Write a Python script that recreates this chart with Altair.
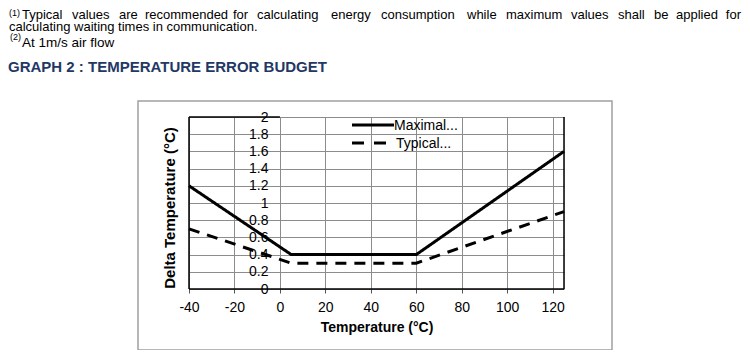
import altair as alt
import pandas as pd

# ---- data ----
temps_max = [-40, 5, 60, 125]
delta_max = [1.2, 0.4, 0.4, 1.6]
temps_typ = [-40, 5, 60, 125]
delta_typ = [0.7, 0.3, 0.3, 0.9]
series_names = ["Maximal...", "Typical..."]
x_ticks = [-40, -20, 0, 20, 40, 60, 80, 100, 120]
y_ticks = [0, 0.2, 0.4, 0.6, 0.8, 1, 1.2, 1.4, 1.6, 1.8, 2]
x_domain = [-40, 125]
y_domain = [0, 2]

line1_words = ["Typical", "values", "are", "recommended", "for", "calculating", "energy",
               "consumption", "while", "maximum", "values", "shall", "be", "applied", "for"]
line1_starts = [22, 72, 119, 145, 233, 257, 331, 381, 467, 506, 571, 618, 654, 676, 741]
line2 = "calculating waiting times in communication."
line3 = "At 1m/s air flow"
graph_title = "GRAPH 2 : TEMPERATURE ERROR BUDGET"

df = pd.DataFrame({
    "t": temps_max + temps_typ,
    "d": delta_max + delta_typ,
    "s": [series_names[0]] * len(temps_max) + [series_names[1]] * len(temps_typ),
})

borders = pd.DataFrame({
    "x": [x_domain[0], x_domain[1], x_domain[0], x_domain[0]],
    "x2": [x_domain[0], x_domain[1], x_domain[1], 0],
    "y": [y_domain[0], y_domain[0], y_domain[0], y_domain[1]],
    "y2": [y_domain[1], y_domain[1], y_domain[0], y_domain[1]],
})

W, H = 375, 172
FONT = "Liberation Sans, Arial, sans-serif"

xs = alt.Scale(domain=x_domain, nice=False, zero=False)
ys = alt.Scale(domain=y_domain, nice=False)

x_axis = alt.Axis(
    values=x_ticks, title="Temperature (°C)", grid=True, gridColor="#8c8c8c",
    gridWidth=1, gridOpacity=1, domain=False, ticks=True, tickSize=4,
    tickColor="#555555", labelFont=FONT, labelFontSize=14, labelColor="black",
    labelPadding=7, labelExpr="'' + datum.value", titleFont=FONT, titleFontSize=14,
    titleFontWeight="bold", titleColor="black", titlePadding=6, labelFlush=False)
y_axis = alt.Axis(
    values=y_ticks, title=None, grid=True, gridColor="#8c8c8c", gridWidth=1,
    gridOpacity=1, domain=False, ticks=False, offset=-91, labelPadding=12,
    labelExpr="'' + datum.value", labelFont=FONT, labelFontSize=14, labelColor="black",
    labelFlush=False, labelBound=False, labelOverlap=False)

lines = alt.Chart(df).mark_line(strokeWidth=3, color="black", clip=False).encode(
    x=alt.X("t:Q", scale=xs, axis=x_axis),
    y=alt.Y("d:Q", scale=ys, axis=y_axis),
    strokeDash=alt.StrokeDash("s:N", scale=alt.Scale(domain=series_names,
                                                     range=[[1, 0], [11, 8]]), legend=None),
    detail="s:N",
)

border_rules = alt.Chart(borders).mark_rule(color="black", strokeWidth=1.5).encode(
    x=alt.X("x:Q", scale=xs, axis=x_axis), x2="x2:Q",
    y=alt.Y("y:Q", scale=ys, axis=y_axis), y2="y2:Q")

one = pd.DataFrame({"k": [0]})

frame = alt.Chart(one).mark_rect(fill=None, stroke="#a0a0a0", strokeWidth=1.5).encode(
    x=alt.value(-51), x2=alt.value(423), y=alt.value(-16), y2=alt.value(233))

leg_solid = alt.Chart(one).mark_rule(color="black", strokeWidth=3).encode(
    x=alt.value(163), x2=alt.value(205), y=alt.value(8))
leg_dash = alt.Chart(one).mark_rule(color="black", strokeWidth=3, strokeDash=[12, 10]).encode(
    x=alt.value(163), x2=alt.value(200), y=alt.value(26))
leg_t1 = alt.Chart(one).mark_text(text=series_names[0], align="left", baseline="alphabetic",
                                  font=FONT, fontSize=14, color="black").encode(
    x=alt.value(205), y=alt.value(13))
leg_t2 = alt.Chart(one).mark_text(text=series_names[1], align="left", baseline="alphabetic",
                                  font=FONT, fontSize=14, color="black").encode(
    x=alt.value(207), y=alt.value(31))

ytitle = alt.Chart(one).mark_text(text="Delta Temperature (°C)", angle=270, align="center",
                                  baseline="middle", font=FONT, fontSize=15,
                                  fontWeight="bold", color="black").encode(
    x=alt.value(-19), y=alt.value(91))


def txt(s, x, y, size=13.5, font=FONT, weight="normal", color="black", align="left"):
    return alt.Chart(one).mark_text(text=s, align=align, baseline="alphabetic", font=font,
                                    fontSize=size, fontWeight=weight, color=color).encode(
        x=alt.value(x), y=alt.value(y))


OX, OY = 189, 117  # page position of plot origin
header = [txt("(1)", 9 - OX, 16 - OY, size=9)]
header += [txt(w, s - OX, 19 - OY, size=13)
           for w, s in zip(line1_words[:-1], line1_starts[:-1])]
header += [
    txt(line1_words[-1], line1_starts[-1] - OX, 19 - OY, size=13, align="right"),
    txt(line2, 9 - OX, 31 - OY, size=13),
    txt("(2)", 10 - OX, 40 - OY, size=9),
    txt(line3, 22 - OX, 47 - OY, size=13.5),
    txt(graph_title, 8 - OX, 72 - OY, size=15, weight="bold", color="#1f3864"),
]

chart = alt.layer(frame, lines, border_rules, leg_solid, leg_dash, leg_t1, leg_t2, ytitle,
                  *header).properties(
    width=W, height=H,
    autosize=alt.AutoSizeParams(type="none"),
    padding={"left": 181, "top": 109, "right": 178, "bottom": 61},
).configure_view(stroke=None).configure(background="white")

chart.save("out.html", embed_options={"renderer": "svg", "actions": False})
